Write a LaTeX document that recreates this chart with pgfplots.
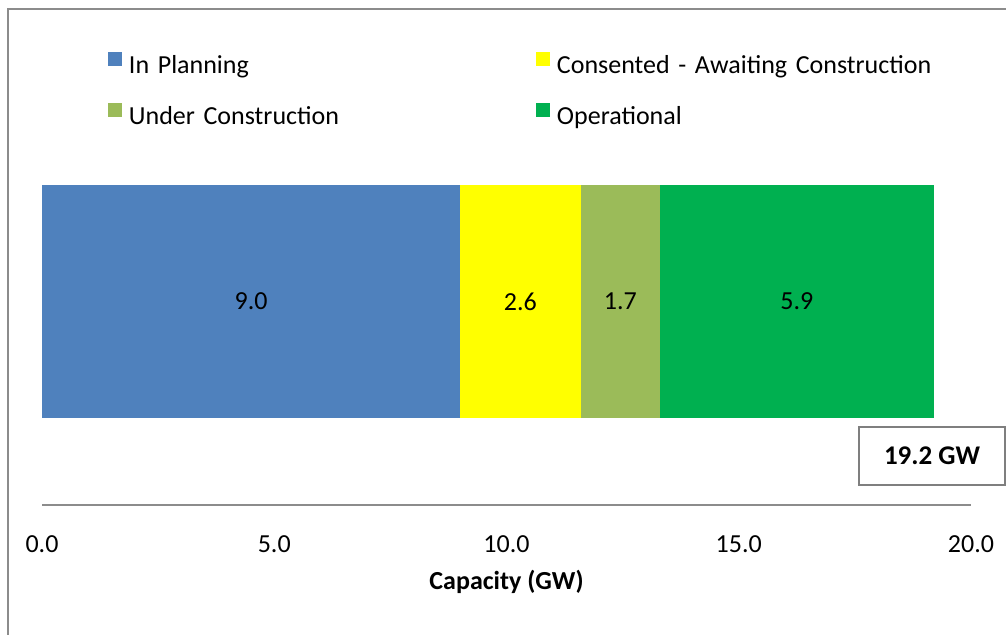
\documentclass[border=0pt]{standalone}
\usepackage{pgfplots}
\pgfplotsset{compat=1.18}
\usepackage{fontspec}
\setmainfont{Carlito}
\definecolor{cplan}{HTML}{4F81BD}
\definecolor{ccons}{HTML}{FFFF00}
\definecolor{cunder}{HTML}{9BBB59}
\definecolor{coper}{HTML}{00B050}
\definecolor{bordergray}{HTML}{8C8C8C}
\definecolor{boxgray}{HTML}{7F7F7F}
\begin{document}
\fontsize{13}{15.6}\selectfont
\begin{tikzpicture}
\useasboundingbox (0,0) rectangle (503pt,317.5pt);
\clip (0,0) rectangle (503pt,317.5pt);
\draw[bordergray, line width=1pt] (4.2pt,313pt) rectangle (520pt,-10pt);
\begin{axis}[
  at={(21pt,65pt)}, anchor=south west,
  scale only axis, width=464.5pt, height=177.5pt,
  xmin=0, xmax=20, ymin=0, ymax=355,
  axis x line*=bottom, axis y line=none,
  x axis line style={bordergray, line width=1pt, -},
  xtick={0,5,10,15,20}, xticklabels={0.0,5.0,10.0,15.0,20.0},
  major tick length=0pt,
  xticklabel style={anchor=base, yshift=-24pt, font=\fontsize{13}{15.6}\selectfont},
  xlabel={\textbf{Capacity (GW)}},
  xlabel style={at={(axis description cs:0.5,0)}, anchor=base, yshift=-42.5pt, font=\fontsize{13}{15.6}\selectfont},
  xbar stacked, bar width=233,
  nodes near coords, point meta=explicit symbolic,
  every node near coord/.style={anchor=center, black, font=\fontsize{13}{15.6}\selectfont},
  legend columns=2,
  legend cell align=left,
  legend image code/.code={\fill[#1] (0pt,0.7pt) rectangle (7pt,7.7pt);},
  legend style={draw=none, fill=none, at={(0.071,1.275)}, anchor=north west,
    inner sep=0pt, outer sep=0pt, row sep=10.5pt, column sep=0pt,
    font=\fontsize{13}{15.6}\selectfont,
    nodes={inner sep=0pt, text height=10pt, text depth=4pt},
    /tikz/every odd column/.append style={column sep=3.5pt},
    /tikz/every even column/.append style={text width=203.5pt, align=left, column sep=0pt}},
]
\addplot[fill=cplan, draw=none] coordinates {(9.0,203.5) [9.0]};
\addlegendentry{In Planning}
\addplot[fill=ccons, draw=none] coordinates {(2.6,203.5) [2.6]};
\addlegendentry{Consented - Awaiting Construction}
\addplot[fill=cunder, draw=none] coordinates {(1.7,203.5) [1.7]};
\addlegendentry{Under Construction}
\addplot[fill=coper, draw=none] coordinates {(5.9,203.5) [5.9]};
\addlegendentry{Operational}
\end{axis}
\node[draw=boxgray, line width=1.25pt, minimum width=73pt, minimum height=29pt, inner sep=0pt,
  font=\bfseries\fontsize{13.5}{16}\selectfont] at (466pt,89.5pt) {19.2 GW};
\end{tikzpicture}
\end{document}
